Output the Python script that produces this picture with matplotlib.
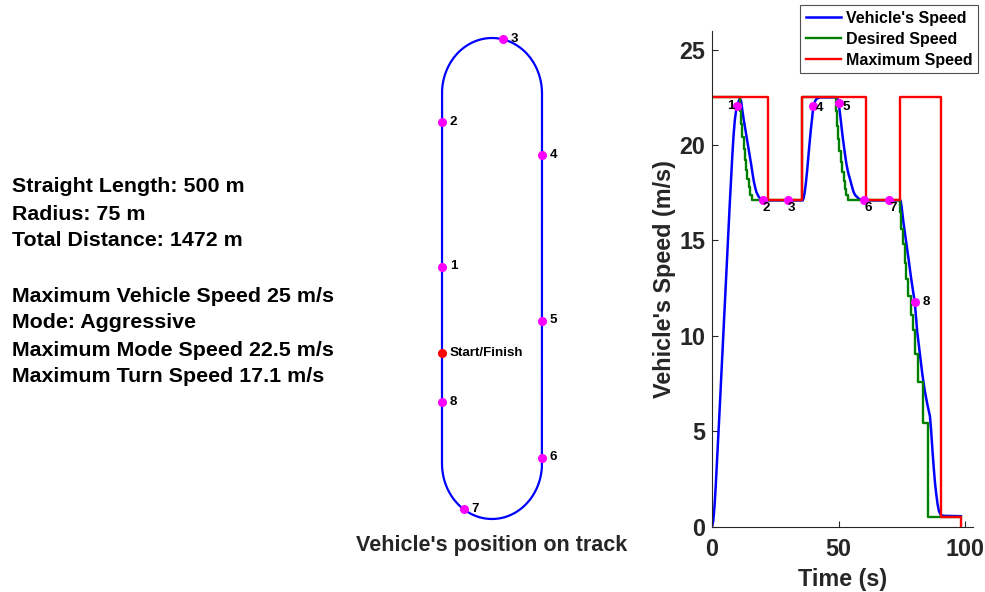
import numpy as np
import matplotlib
matplotlib.use("Agg")
import matplotlib.pyplot as plt

plt.rcParams['font.family'] = ['Liberation Sans', 'DejaVu Sans']
plt.rcParams['font.weight'] = 'bold'

# ---- track description ----
straight_length = 500.0          # m
turn_radius = 75.0               # m
start_offset = 150.0             # start/finish distance up the left straight, m
info_lines = [
    "Straight Length: 500 m",
    "Radius: 75 m",
    "Total Distance: 1472 m",
    "",
    "Maximum Vehicle Speed 25 m/s",
    "Mode: Aggressive",
    "Maximum Mode Speed 22.5 m/s",
    "Maximum Turn Speed 17.1 m/s",
]

# checkpoints every 10 s: distance travelled along the track (m)
checkpoint_labels = ["1", "2", "3", "4", "5", "6", "7", "8"]
checkpoint_dist = [116, 311, 485, 669, 893, 1078, 1248, 1404]
checkpoint_time = [10, 20, 30, 40, 50, 60, 70, 80]
checkpoint_speed = [22.05, 17.1, 17.1, 22.05, 22.2, 17.1, 17.1, 11.8]

# ---- speed profiles ----
vehicle_t = [0, 0.5, 1.0, 1.5, 2.0, 2.5, 3.0, 4.0, 5.0, 6.0, 7.0, 8.0, 8.5, 9.0,
             9.5, 10.0, 10.5, 11.0, 11.5, 12.0, 12.5, 13.0, 13.5, 14.0, 14.5,
             15.0, 15.5, 16.0, 16.5, 17.0, 17.5, 18.0, 18.5, 19.0, 19.5, 20.0,
             35.8, 36.2, 36.6, 37.0, 37.5, 38.0, 38.5, 39.0, 39.5, 40.0, 40.5,
             41.0, 41.5, 42.5, 49.0, 49.5, 50.0, 50.5, 51.0, 51.5, 52.1, 52.5,
             53.0, 53.5, 54.0, 54.5, 55.0, 55.5, 56.0, 56.5, 57.1, 58.0, 59.0,
             60.0, 74.4, 74.8, 75.5, 76.5, 77.5, 78.5, 79.5, 80.0, 81.0, 82.0,
             83.0, 84.0, 85.0, 86.0, 86.5, 87.0, 87.5, 88.0, 88.5, 89.0, 89.5,
             90.0, 90.5, 91.3, 98.2]
vehicle_v = [0, 0.3, 1.1, 2.2, 3.5, 4.8, 6.1, 8.8, 11.5, 14.2, 16.9, 19.4, 20.5,
             21.3, 21.8, 22.05, 22.3, 22.45, 22.3, 21.8, 21.35, 20.95, 20.55,
             20.15, 19.75, 19.35, 18.95, 18.5, 18.1, 17.8, 17.55, 17.4, 17.28,
             17.2, 17.14, 17.1,
             17.1, 17.25, 17.55, 17.95, 18.6, 19.35, 20.1, 20.8, 21.4, 22.05,
             22.25, 22.38, 22.44, 22.5, 22.5, 22.45, 22.2, 21.67, 21.1, 20.5,
             19.9, 19.5, 19.05, 18.7, 18.42, 18.2, 17.95, 17.7, 17.5, 17.38,
             17.3, 17.18, 17.12, 17.1,
             17.1, 16.8, 16.0, 15.05, 14.1, 13.1, 12.2, 11.8, 10.2, 9.1, 8.0,
             7.1, 6.4, 5.8, 5.0, 4.0, 3.1, 2.3, 1.7, 1.2, 0.85, 0.68, 0.6,
             0.57, 0.55]

desired_t = [0, 11.0, 11.5, 12.0, 12.5, 13.0, 13.5, 14.0, 14.5, 15.0, 15.6,
             35.7, 48.9, 49.3, 49.8, 50.3, 50.8, 51.4, 51.9, 52.4, 52.9, 53.6,
             74.2, 74.7, 75.3, 76.0, 76.7, 77.5, 78.4, 79.3, 80.2, 81.4, 83.2,
             85.4, 98.2]
desired_v = [22.5, 21.8, 21.1, 20.4, 19.8, 19.2, 18.7, 18.2, 17.8, 17.4, 17.1,
             22.5, 21.8, 21.0, 20.3, 19.7, 19.1, 18.6, 18.1, 17.7, 17.4, 17.1,
             16.5, 15.6, 14.8, 13.8, 13.0, 12.1, 11.1, 10.3, 9.05, 7.57, 5.45,
             0.5, 0.5]

max_t = [0, 22.2, 35.7, 60.7, 74.1, 90.4, 98.2]
max_v = [22.5, 17.1, 22.5, 17.1, 22.5, 0.5, 0.0]


def track_xy(d):
    """Position on the oval for a distance d travelled from start/finish."""
    L, R = straight_length, turn_radius
    total = 2 * L + 2 * np.pi * R
    u = (np.asarray(d, dtype=float) + start_offset) % total
    x = np.empty_like(u)
    y = np.empty_like(u)
    s1 = u < L
    a1 = (u >= L) & (u < L + np.pi * R)
    s2 = (u >= L + np.pi * R) & (u < 2 * L + np.pi * R)
    a2 = u >= 2 * L + np.pi * R
    x[s1], y[s1] = 0.0, u[s1]
    th = np.pi - (u[a1] - L) / R
    x[a1], y[a1] = R + R * np.cos(th), L + R * np.sin(th)
    x[s2], y[s2] = 2 * R, L - (u[s2] - L - np.pi * R)
    th = -(u[a2] - 2 * L - np.pi * R) / R
    x[a2], y[a2] = R + R * np.cos(th), R * np.sin(th)
    return x, y


W, H = 985, 592
fig = plt.figure(figsize=(W / 100, H / 100), dpi=100)

def fig_rect(left, top, right, bottom):
    return [left / W, 1 - bottom / H, (right - left) / W, (bottom - top) / H]

dark = '#262626'

# ---- info text ----
line_y = [187, 214, 241, 268, 296, 323, 350, 377]
for s, yy in zip(info_lines, line_y):
    if s:
        fig.text(12 / W, 1 - yy / H, s, ha='left', va='center',
                 fontsize=15.4, fontweight='bold', color='black')

# ---- track ----
axt = fig.add_axes(fig_rect(382, 19.5, 602, 537.5))
axt.set_xlim(-90, 240)
axt.set_ylim(-100, 600)
axt.axis('off')
total_len = 2 * straight_length + 2 * np.pi * turn_radius
dd = np.linspace(0, total_len, 1500)
tx, ty = track_xy(dd)
axt.plot(tx, ty, color='#0000FF', lw=1.6, solid_capstyle='round')
mx, my = track_xy(checkpoint_dist)
axt.plot(mx, my, 'o', color='#FF00FF', ms=5.5, mec='#FF00FF')
for lab, x0, y0 in zip(checkpoint_labels, mx, my):
    axt.annotate(lab, (x0, y0), xytext=(5.5, 0.5), textcoords='offset points',
                 ha='left', va='center', fontsize=9.6, fontweight='bold', color='black')
sx, sy = track_xy([0.0])
axt.plot(sx, sy, 'o', color='#FF0000', ms=5.5, mec='#FF0000')
axt.annotate("Start/Finish", (sx[0], sy[0]), xytext=(5.5, 0), textcoords='offset points',
             ha='left', va='center', fontsize=9.6, fontweight='bold', color='black')
fig.text(492 / W, 1 - 546 / H, "Vehicle's position on track", ha='center', va='center',
         fontsize=15.5, fontweight='bold', color=dark)

# ---- speed plot ----
ax = fig.add_axes(fig_rect(712, 30.6, 973, 526.7))
ln_v, = ax.plot(vehicle_t, vehicle_v, color='#0000FF', lw=1.8, label="Vehicle's Speed")
ln_d, = ax.step(desired_t, desired_v, where='post', color='#008000', lw=1.7, label='Desired Speed')
ln_m, = ax.step(max_t, max_v, where='post', color='#FF0000', lw=1.7, label='Maximum Speed')
ax.plot(checkpoint_time, checkpoint_speed, 'o', color='#FF00FF', ms=5.5, mec='#FF00FF', zorder=5)

label_offsets = [(-2, 0, 'right'), (0, -5.5, 'left'), (0, -5.5, 'left'), (2, -1.5, 'left'),
                 (3, -3, 'left'), (0, -5.5, 'left'), (0, -5.5, 'left'), (5.5, 0, 'left')]
for lab, t0, v0, (dx, dy, ha) in zip(checkpoint_labels, checkpoint_time, checkpoint_speed, label_offsets):
    ax.annotate(lab, (t0, v0), xytext=(dx, dy), textcoords='offset points',
                ha=ha, va='center', fontsize=9.6, fontweight='bold', color='black', zorder=6)

ax.set_xlim(0, 103)
ax.set_ylim(0, 26)
ax.set_xticks([0, 50, 100])
ax.set_yticks([0, 5, 10, 15, 20, 25])
ax.tick_params(direction='in', length=4, width=0.8, colors=dark, labelsize=16.8, pad=5)
ax.tick_params(axis='x', pad=8)
for lbl in ax.get_xticklabels() + ax.get_yticklabels():
    lbl.set_fontweight('bold')
for side in ('top', 'right'):
    ax.spines[side].set_visible(False)
for side in ('left', 'bottom'):
    ax.spines[side].set_color(dark)
    ax.spines[side].set_linewidth(0.8)
ax.set_xlabel('Time (s)', fontsize=16.8, fontweight='bold', color=dark, labelpad=5)
ax.set_ylabel("Vehicle's Speed (m/s)", fontsize=16.8, fontweight='bold', color=dark, labelpad=2)

leg = fig.legend(handles=[ln_v, ln_d, ln_m], loc='upper right',
                 bbox_to_anchor=(978 / W, 1 - 5 / H), fontsize=11.5, frameon=True,
                 fancybox=False, edgecolor='#262626', handlelength=2.2, handletextpad=0.3,
                 borderpad=0.35, labelspacing=0.38, borderaxespad=0)
leg.get_frame().set_linewidth(0.8)
for txt in leg.get_texts():
    txt.set_fontweight('bold')

fig.savefig('out.png', dpi=100)
